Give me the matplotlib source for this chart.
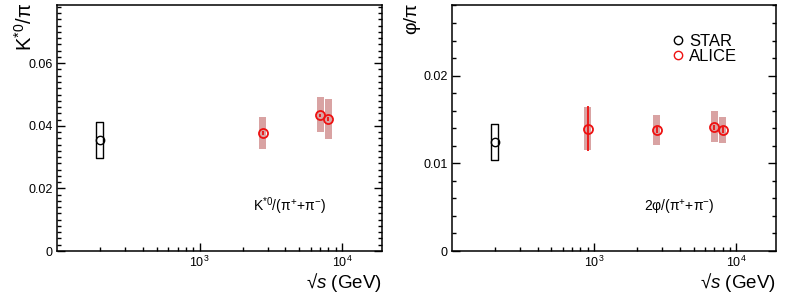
import numpy as np
import matplotlib
matplotlib.use("Agg")
import matplotlib.pyplot as plt
from matplotlib.ticker import MultipleLocator, LogLocator, NullFormatter, FixedLocator

plt.rcParams['font.family'] = ['Liberation Sans', 'DejaVu Sans']
plt.rcParams['mathtext.fontset'] = 'custom'
plt.rcParams['mathtext.rm'] = 'Liberation Sans'
plt.rcParams['mathtext.it'] = 'Liberation Sans:italic'

# STAR (200 GeV)
star_e = [200]
star_kst = [0.0355]
star_kst_lo = [0.0296]
star_kst_hi = [0.0413]
star_phi = [0.0124]
star_phi_lo = [0.0104]
star_phi_hi = [0.01445]

# ALICE K*0/pi
alice_kst_e = [2760, 7000, 8000]
alice_kst = [0.0378, 0.0433, 0.0422]
alice_kst_stat = [0.0006, 0.0006, 0.0006]
alice_kst_lo = [0.0326, 0.0379, 0.0358]
alice_kst_hi = [0.0429, 0.0493, 0.0485]

# ALICE phi/pi
alice_phi_e = [900, 2760, 7000, 8000]
alice_phi = [0.01395, 0.0138, 0.0141, 0.0138]
alice_phi_stat = [0.0026, 0.0003, 0.0003, 0.0003]
alice_phi_lo = [0.0115, 0.0121, 0.01246, 0.01235]
alice_phi_hi = [0.01646, 0.0155, 0.0160, 0.01525]

red = '#ee1111'
box_red = '#d9a3a3'
hw = 10 ** 0.0245  # half-width of systematic boxes (log)

fig = plt.figure(figsize=(7.88, 3.02), dpi=100)
ax1 = fig.add_axes([57/788, 1-251/302, 325/788, 246/302])
ax2 = fig.add_axes([452/788, 1-251/302, 324/788, 246/302])


def draw_box(ax, e, lo, hi, filled):
    for x, l, h in zip(e, lo, hi):
        if filled:
            ax.fill_between([x/hw, x*hw], l, h, color=box_red, lw=0, zorder=1)
        else:
            ax.fill_between([x/hw, x*hw], l, h, facecolor='none', edgecolor='black', lw=1.0, zorder=1)


def style(ax, ymax, major, minor):
    ax.set_xscale('log')
    ax.set_xlim(100, 1.9e4)
    ax.set_ylim(0, ymax)
    ax.xaxis.set_major_locator(FixedLocator([1e3, 1e4]))
    ax.xaxis.set_minor_locator(LogLocator(base=10, subs=np.arange(2, 10), numticks=20))
    ax.xaxis.set_minor_formatter(NullFormatter())
    ax.set_xticklabels(['$10^{3}$', '$10^{4}$'])
    ax.yaxis.set_major_locator(MultipleLocator(major))
    ax.yaxis.set_minor_locator(MultipleLocator(minor))
    ax.yaxis.set_major_formatter(matplotlib.ticker.FuncFormatter(lambda v, p: '0' if v == 0 else ('%g' % v)))
    ax.tick_params(which='both', direction='in', top=False, right=True, labelsize=9, width=1.0, pad=3)
    ax.tick_params(which='major', length=6)
    ax.tick_params(which='minor', length=3)
    for s in ax.spines.values():
        s.set_linewidth(1.1)


# left panel
draw_box(ax1, star_e, star_kst_lo, star_kst_hi, False)
draw_box(ax1, alice_kst_e, alice_kst_lo, alice_kst_hi, True)
ax1.plot(star_e, star_kst, 'o', mfc='none', mec='black', ms=6, mew=1.0, zorder=3)
ax1.errorbar(alice_kst_e, alice_kst, yerr=alice_kst_stat, fmt='o', mfc='none', mec=red,
             ecolor=red, ms=6.5, mew=1.3, elinewidth=1.3, capsize=0, zorder=3)
style(ax1, 0.0786, 0.02, 0.002)
ax1.text(289/788, 1-206/302, 'K$^{*0}$/(π$^{+}$+π$^{-}$)', transform=fig.transFigure,
         ha='center', va='center', fontsize=10)

# right panel
draw_box(ax2, star_e, star_phi_lo, star_phi_hi, False)
draw_box(ax2, alice_phi_e, alice_phi_lo, alice_phi_hi, True)
ax2.plot(star_e, star_phi, 'o', mfc='none', mec='black', ms=6, mew=1.0, zorder=3)
ax2.errorbar(alice_phi_e, alice_phi, yerr=alice_phi_stat, fmt='o', mfc='none', mec=red,
             ecolor=red, ms=6.5, mew=1.3, elinewidth=1.3, capsize=0, zorder=3)
style(ax2, 0.02805, 0.01, 0.002)
ax2.text(679/788, 1-208/302, '2φ/(π$^{+}$+π$^{-}$)', transform=fig.transFigure,
         ha='center', va='center', fontsize=10)
h = [plt.Line2D([], [], ls='none', marker='o', mfc='none', mec='black', ms=6, mew=1.0),
     plt.Line2D([], [], ls='none', marker='o', mfc='none', mec=red, ms=6, mew=1.0)]
ax2.legend(h, ['STAR', 'ALICE'], loc='upper left', bbox_to_anchor=(0.655, 0.91), frameon=False,
           fontsize=12, handlelength=0.8, handletextpad=0.3, labelspacing=0.0, borderaxespad=0)

# axis titles
fig.text(25/788, 1-3/302, 'K$^{*0}$/π', rotation=90, ha='center', va='top', fontsize=14.5)
fig.text(412/788, 1-3/302, 'φ/π', rotation=90, ha='center', va='top', fontsize=14)
fig.text(382/788, 1-283/302, '√$s$ (GeV)', ha='right', va='center', fontsize=13.5)
fig.text(776/788, 1-283/302, '√$s$ (GeV)', ha='right', va='center', fontsize=13.5)

plt.savefig('out.png', dpi=100)
